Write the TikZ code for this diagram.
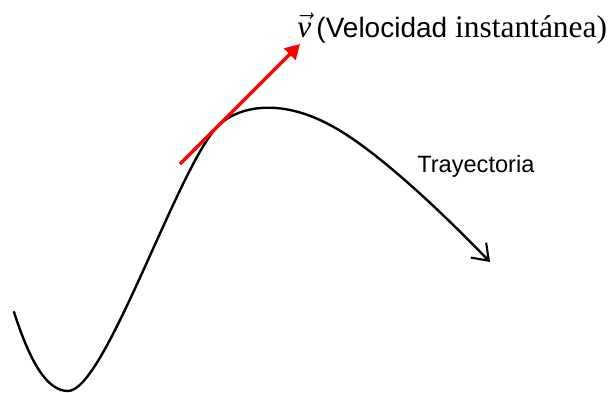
\documentclass[tikz,border=0pt]{standalone}
\usepackage{fontspec}
\setmainfont{Liberation Serif}
\newfontfamily\arialf{Liberation Sans}
\usetikzlibrary{arrows.meta}
\definecolor{velRed}{HTML}{FF0000}

\begin{document}
\begin{tikzpicture}[x=0.75pt, y=-0.75pt,
          curva/.style={line width=1.8pt, black, line cap=round,
            -{Straight Barb[length=11pt, width=16pt, line width=1.6pt]}},
          vel/.style={line width=2.6pt, velRed,
            -{Triangle[length=11pt, width=12pt]}},
          lbl/.style={inner sep=0pt, anchor=base west}]
        \useasboundingbox (0,0) rectangle (608,393);
        % trajectory
        \coordinate (ini) at (14,312);
        \coordinate (fin) at (490,262);
        \draw[curva] (ini) .. controls (30,362) and (47,391) .. (68,391)
          .. controls (105,391) and (178,166) .. (218,126)
          .. controls (238,106) and (280,98) .. (330,125)
          .. controls (370,146) and (430,200) .. (fin);
        % velocity vector
        \coordinate (v0) at (180,164);
        \coordinate (v1) at (300,44);
        \draw[vel] (v0) -- (v1);
        \node[lbl, font=\fontsize{23.6}{27}\selectfont] (vlab) at (297,37)
          {$\vec{\mbox{\itshape v}}$\,{\arialf\fontsize{21}{25}\selectfont(Velocidad} instantánea)};
        \node[lbl, font=\arialf\fontsize{17.7}{21}\selectfont] (tray) at (417,172) {Trayectoria};
      \end{tikzpicture}
\end{document}
